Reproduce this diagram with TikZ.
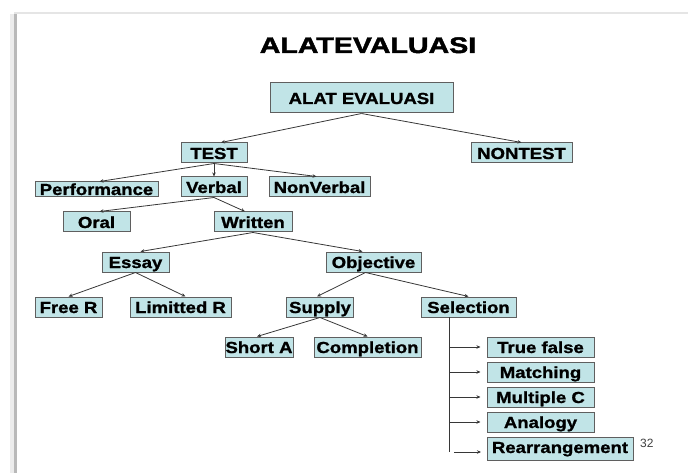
\documentclass[tikz,border=0pt]{standalone}
\usepackage{fontspec}
\setmainfont{Liberation Sans}
\newfontfamily\boxfont[FakeStretch=1.16, FakeBold=1.2]{Liberation Sans}
\newfontfamily\titlefont[FakeStretch=1.27, FakeBold=2]{Liberation Sans}
\usetikzlibrary{arrows.meta}
\definecolor{boxFill}{RGB}{193, 228, 231}
\definecolor{boxLine}{RGB}{95, 95, 95}
\definecolor{linkGray}{RGB}{55, 55, 55}

\begin{document}
\begin{tikzpicture}[x=1pt, y=-1pt,
		box/.style={draw=boxLine, fill=boxFill, line width=1pt, inner sep=0pt,
			minimum height=20pt, text height=16pt, text depth=4pt,
			font=\boxfont\bfseries\fontsize{16}{16}\selectfont},
		link/.style={color=linkGray, line width=0.8pt, -{Stealth[length=4pt,width=3.5pt]}}]
			\useasboundingbox (0,0) rectangle (688,473);
			% slide edge
			\fill[gray!15] (10,14) rectangle (14,473);
			\fill[gray!55] (14,13) rectangle (17,473);
			\draw[gray!20, line width=1.5pt] (14,13) -- (688,13);
	
			\draw (368,53) node[anchor=base, inner sep=0pt, font=\titlefont\bfseries\fontsize{22.5}{24}\selectfont] (title) {ALATEVALUASI};
	
			\draw (361.5,98) node[box, minimum width=183pt, minimum height=30pt, text height=21pt, text depth=9pt] (alat) {ALAT EVALUASI};
			\draw (214,153) node[box, minimum width=66pt] (test) {TEST};
			\draw (521.5,153) node[box, minimum width=101pt] (nontest) {NONTEST};
			\draw (96.5,189.5) node[box, minimum width=123pt, minimum height=15pt, text height=13pt, text depth=2pt] (perf) {Performance};
			\draw (214,187) node[box, minimum width=66pt] (verbal) {Verbal};
			\draw (319.5,187) node[box, minimum width=101pt] (nonverbal) {NonVerbal};
			\draw (96.5,222) node[box, minimum width=67pt] (oral) {Oral};
			\draw (253,222) node[box, minimum width=78pt] (written) {Written};
			\draw (135.5,262) node[box, minimum width=67pt] (essay) {Essay};
			\draw (373.5,262) node[box, minimum width=95pt] (objective) {Objective};
			\draw (68.5,307) node[box, minimum width=67pt] (freer) {Free R};
			\draw (180.5,307) node[box, minimum width=101pt] (limr) {Limitted R};
			\draw (320,307) node[box, minimum width=67pt] (supply) {Supply};
			\draw (468.5,307) node[box, minimum width=95pt] (selection) {Selection};
			\draw (259,347) node[box, minimum width=68pt] (shorta) {Short A};
			\draw (367.5,347) node[box, minimum width=107pt] (completion) {Completion};
			\draw (540.5,347) node[box, minimum width=107pt] (truefalse) {True false};
			\draw (540.5,372) node[box, minimum width=107pt] (matching) {Matching};
			\draw (540.5,397) node[box, minimum width=107pt] (multiple) {Multiple C};
			\draw (540.5,422) node[box, minimum width=107pt] (analogy) {Analogy};
			\draw (560,448.5) node[box, minimum width=146pt, minimum height=23pt, text height=16pt, text depth=7pt] (rearr) {Rearrangement};
			\draw (640,447) node[anchor=base west, inner sep=0pt, text=black!75, font=\fontsize{12}{12}\selectfont] (page) {32};
	
			\path[link]
			(alat.south) edge ([xshift=7pt]test.north)
			(alat.south) edge (nontest.north)
			(test.south) edge ([xshift=3pt]perf.north)
			(test.south) edge (verbal.north)
			(test.south) edge ([xshift=-3pt]nonverbal.north)
			(verbal.south) edge ([xshift=3pt]oral.north)
			(verbal.south) edge ([xshift=-8pt]written.north)
			(written.south) edge ([xshift=5pt]essay.north)
			(written.south) edge ([xshift=-11pt]objective.north)
			(essay.south) edge (freer.north)
			(essay.south) edge ([xshift=5pt]limr.north)
			([xshift=-8pt]objective.south) edge ([xshift=-3pt]supply.north)
			([xshift=-8pt]objective.south) edge (selection.north)
			(supply.south) edge ([xshift=-2pt]shorta.north)
			(supply.south) edge (completion.north)
			;
	
			% selection options
			\coordinate (selTop) at (449,317);
			\coordinate (selEnd) at (449,452);
			\coordinate (selFoot) at (454,452);
			\coordinate (rearrIn) at (487,452);
			\draw[draw=linkGray, line width=0.8pt] (selTop) -- (selEnd);
			\path[link, shorten >=6pt]
			(selTop |- truefalse.west) edge (truefalse.west)
			(selTop |- matching.west) edge (matching.west)
			(selTop |- multiple.west) edge (multiple.west)
			(selTop |- analogy.west) edge (analogy.west)
			(selFoot) edge (rearrIn)
			;
		\end{tikzpicture}
\end{document}
